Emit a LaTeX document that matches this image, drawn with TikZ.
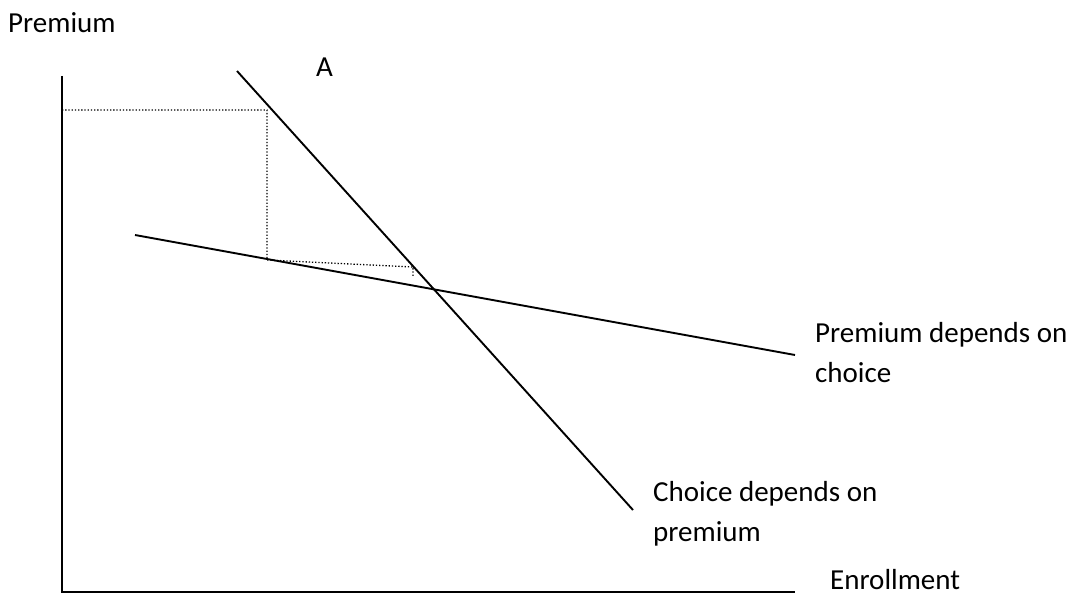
\documentclass[tikz,border=0pt]{standalone}
\usepackage{fontspec}
\setmainfont{Carlito}
\usepackage{tikz}
\usetikzlibrary{positioning}
\tikzset{
  axisline/.style={line width=2pt, draw=black},
  curve/.style={line width=1.9pt, draw=black},
  guide/.style={line width=1.3pt, dash pattern=on 1.3pt off 1.9pt, draw=black},
  label/.style={inner sep=0pt, anchor=base west, align=left,
    font=\fontsize{29}{40}\selectfont}
}

\begin{document}
\begin{tikzpicture}[x=1pt, y=-1pt]
        \useasboundingbox (0,0) rectangle (1071,594);
        % axes
        \coordinate (origin) at (62,592);
        \coordinate (ytop) at (62,76);
        \coordinate (xend) at (795,592);
        \draw[axisline] (ytop) -- (origin) -- (xend);
        \node[label] (ylab) at (8,33) {Premium};
        \node[label] (xlab) at (830,589) {Enrollment};
        % the two curves
        \coordinate (chtop) at (237,71);
        \coordinate (chend) at (633,510);
        \coordinate (prstart) at (135,235);
        \coordinate (prend) at (795,355);
        \draw[curve] (chtop) -- (chend);
        \draw[curve] (prstart) -- (prend);
        \node[label] (alab) at (316,77) {A};
        % base of a two-line label is its last line
        \node[label] (prlab) at (815,382) {Premium depends on\\choice};
        \node[label] (chlab) at (653,541) {Choice depends on\\premium};
        % dotted guides
        \coordinate (g1) at (62,110);
        \coordinate (g2) at (267,110);
        \coordinate (g3) at (267,260);
        \coordinate (g4) at (413,267);
        \coordinate (g5) at (413,276);
        \draw[guide] (g1) -- (g2) -- (g3) -- (g4) -- (g5);
      \end{tikzpicture}
\end{document}
